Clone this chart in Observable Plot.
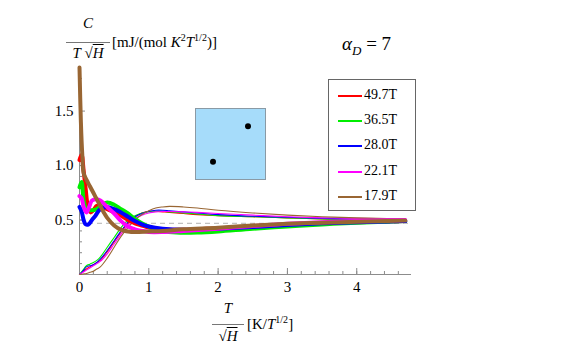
<!DOCTYPE html>
<html>
<head>
<meta charset="utf-8">
<script src="https://cdn.jsdelivr.net/npm/d3@7"></script>
<script src="https://cdn.jsdelivr.net/npm/@observablehq/plot@0.6"></script>
<style>
  body { margin: 0; background: white; }
  #wrap { position: relative; width: 581px; height: 363px; font-family: "Liberation Serif", "DejaVu Serif", serif; color: #000; }
  .abs { position: absolute; white-space: nowrap; }
  .it { font-style: italic; }
  .ov { text-decoration: overline; }
  #legend { position: absolute; left: 328px; top: 79px; width: 86px; height: 130px; border: 1px solid #666; background: white; }
  .lrow { position: absolute; left: 9px; height: 16px; font-size: 14px; line-height: 16px; }
  .lline { position: absolute; left: 0; top: 8px; width: 24px; height: 2px; }
  .ltext { position: absolute; left: 26px; top: 0; }
</style>
</head>
<body>
<div id="wrap"></div>
<script>
// ---- data ----
const fields = ["49.7T", "36.5T", "28.0T", "22.1T", "17.9T"];
const colors = ["#ff0000", "#00ee00", "#0000ff", "#ff00ff", "#996633"];

// thick curves (decreasing branch)
const thickX_red     = [0, 0.03, 0.06, 0.09, 0.12, 0.16, 0.2, 0.25, 0.3, 0.4, 0.5, 0.6, 0.7, 0.8, 0.9, 1.0, 1.2, 1.5, 2.0, 2.5, 3.0, 3.5, 4.0, 4.7];
const thickY_red     = [1.05, 1.1, 0.95, 0.78, 0.63, 0.57, 0.59, 0.63, 0.63, 0.60, 0.57, 0.54, 0.50, 0.47, 0.45, 0.43, 0.415, 0.41, 0.425, 0.44, 0.46, 0.47, 0.48, 0.49];
const thickX_green   = [0, 0.03, 0.06, 0.1, 0.16, 0.25, 0.32, 0.4, 0.5, 0.6, 0.7, 0.8, 0.9, 1.0, 1.2, 1.4, 1.7, 2.0, 2.5, 3.0, 3.5, 4.0, 4.7];
const thickY_green   = [0.8, 0.85, 0.68, 0.6, 0.59, 0.6, 0.64, 0.66, 0.64, 0.6, 0.56, 0.51, 0.47, 0.44, 0.40, 0.385, 0.385, 0.395, 0.42, 0.44, 0.46, 0.475, 0.49];
const thickX_blue    = [0, 0.03, 0.06, 0.09, 0.13, 0.18, 0.23, 0.3, 0.4, 0.5, 0.6, 0.7, 0.8, 0.9, 1.0, 1.2, 1.5, 2.0, 2.5, 3.0, 3.5, 4.0, 4.7];
const thickY_blue    = [0.62, 0.58, 0.5, 0.46, 0.46, 0.5, 0.54, 0.6, 0.62, 0.6, 0.57, 0.53, 0.49, 0.46, 0.44, 0.42, 0.41, 0.42, 0.435, 0.455, 0.47, 0.48, 0.49];
const thickX_magenta = [0, 0.03, 0.06, 0.1, 0.14, 0.18, 0.25, 0.3, 0.4, 0.5, 0.6, 0.7, 0.8, 0.9, 1.0, 1.2, 1.5, 2.0, 2.5, 3.0, 3.5, 4.0, 4.7];
const thickY_magenta = [0.72, 0.7, 0.62, 0.57, 0.62, 0.68, 0.69, 0.68, 0.62, 0.56, 0.49, 0.44, 0.415, 0.4, 0.39, 0.39, 0.4, 0.42, 0.445, 0.465, 0.48, 0.49, 0.5];
const thickX_brown   = [0, 0.02, 0.04, 0.06, 0.1, 0.15, 0.2, 0.25, 0.3, 0.35, 0.4, 0.5, 0.6, 0.7, 0.8, 1.0, 1.2, 1.5, 2.0, 2.5, 3.0, 3.5, 4.0, 4.7];
const thickY_brown   = [1.9, 1.4, 1.1, 0.93, 0.87, 0.81, 0.75, 0.69, 0.63, 0.57, 0.52, 0.45, 0.41, 0.395, 0.39, 0.395, 0.40, 0.415, 0.43, 0.45, 0.465, 0.475, 0.485, 0.495];

// thin curves (rising branch)
const thinX          = [0, 0.05, 0.1, 0.15, 0.2, 0.25, 0.3, 0.4, 0.5, 0.6, 0.7, 0.8, 0.9, 1.0, 1.1, 1.2, 1.3, 1.5, 1.7, 2.0, 2.5, 3.0, 3.5, 4.0, 4.7];
const thinY_red      = [0, 0.025, 0.05, 0.07, 0.09, 0.11, 0.13, 0.21, 0.30, 0.39, 0.47, 0.53, 0.565, 0.58, 0.58, 0.575, 0.57, 0.56, 0.55, 0.54, 0.53, 0.52, 0.51, 0.505, 0.50];
const thinY_green    = [0, 0.04, 0.08, 0.095, 0.11, 0.13, 0.16, 0.25, 0.34, 0.43, 0.50, 0.54, 0.565, 0.575, 0.58, 0.58, 0.575, 0.565, 0.555, 0.54, 0.53, 0.52, 0.51, 0.505, 0.50];
const thinY_blue     = [0, 0.03, 0.07, 0.08, 0.09, 0.11, 0.14, 0.22, 0.31, 0.40, 0.48, 0.53, 0.56, 0.58, 0.59, 0.59, 0.585, 0.575, 0.565, 0.55, 0.535, 0.525, 0.515, 0.51, 0.505];
const thinY_magenta  = [0, 0.02, 0.04, 0.06, 0.08, 0.10, 0.12, 0.19, 0.28, 0.37, 0.45, 0.51, 0.545, 0.565, 0.575, 0.578, 0.578, 0.575, 0.57, 0.56, 0.545, 0.53, 0.52, 0.515, 0.51];
const thinY_brown    = [0, 0.005, 0.01, 0.02, 0.03, 0.05, 0.07, 0.15, 0.25, 0.35, 0.43, 0.50, 0.55, 0.585, 0.61, 0.62, 0.625, 0.62, 0.61, 0.59, 0.565, 0.545, 0.53, 0.52, 0.51];

const dashedLevel = [0.47];
const xMajorTicks = [0, 1, 2, 3, 4];
const xMinorTicks = d3.range(0, 24).map(i => +(i * 0.2).toFixed(1));
const yMajorTicks = [0.5, 1.0, 1.5];
const yMinorTicks = d3.range(1, 19).map(i => +(i * 0.1).toFixed(1));
const insetDots = [{u: 0.25, v: 0.25}, {u: 0.75, v: 0.75}];

// ---- build tables ----
const thickSets = [[thickX_red, thickY_red], [thickX_green, thickY_green], [thickX_blue, thickY_blue], [thickX_magenta, thickY_magenta], [thickX_brown, thickY_brown]];
const thinSets = [thinY_red, thinY_green, thinY_blue, thinY_magenta, thinY_brown];
const thick = [], thin = [];
thickSets.forEach(([xs, ys], i) => xs.forEach((x, j) => thick.push({field: fields[i], x, y: ys[j]})));
thinSets.forEach((ys, i) => thinX.forEach((x, j) => thin.push({field: fields[i], x, y: ys[j]})));

const gray = "#8c8c8c";
const color = {domain: fields, range: colors};

const lineMarks = [];
fields.forEach(f => lineMarks.push(Plot.line(thin.filter(d => d.field === f), {x: "x", y: "y", stroke: "field", strokeWidth: 1.1, curve: "catmull-rom"})));
fields.forEach(f => lineMarks.push(Plot.line(thick.filter(d => d.field === f), {x: "x", y: "y", stroke: "field", strokeWidth: 4, curve: "catmull-rom"})));

const chart = Plot.plot({
  width: 581, height: 363,
  marginLeft: 79, marginRight: 170, marginTop: 67, marginBottom: 89,
  x: {domain: [0, 4.79], label: null},
  y: {domain: [0, 1.9], label: null},
  color,
  style: {fontFamily: "Liberation Serif", fontSize: "15px", color: "black", background: "white", overflow: "visible"},
  marks: [
    Plot.ruleY(dashedLevel, {stroke: "#b0b0b0", strokeDasharray: "5,4"}),
    Plot.ruleY([0], {stroke: gray}),
    Plot.ruleX([0], {stroke: gray}),
    Plot.axisX(xMinorTicks, {tickSize: 3, dy: -3, tickFormat: () => "", stroke: gray, label: null}),
    Plot.axisX(xMajorTicks, {tickSize: 6, dy: -6, tickFormat: () => "", stroke: gray, label: null}),
    Plot.axisX(xMajorTicks, {tickSize: 0, tickPadding: 7, tickFormat: d3.format("d"), label: null, fontSize: 15}),
    Plot.axisY(yMinorTicks, {tickSize: 3, dx: 3, tickFormat: () => "", stroke: gray, label: null}),
    Plot.axisY(yMajorTicks, {tickSize: 6, dx: 6, tickFormat: () => "", stroke: gray, label: null}),
    Plot.axisY(yMajorTicks, {tickSize: 0, tickPadding: 6, tickFormat: d3.format(".1f"), label: null, fontSize: 15}),
    ...lineMarks
  ]
});

const inset = Plot.plot({
  width: 70, height: 71, margin: 0,
  x: {domain: [0, 1], axis: null}, y: {domain: [0, 1], axis: null},
  style: {background: "transparent", overflow: "visible"},
  marks: [
    Plot.frame({fill: "#a6dcfa", stroke: "#8a9aa5"}),
    Plot.dot(insetDots, {x: "u", y: "v", r: 3, fill: "black"})
  ]
});

const wrap = document.getElementById("wrap");
chart.style.position = "absolute"; chart.style.left = "0"; chart.style.top = "0";
wrap.appendChild(chart);
inset.style.position = "absolute"; inset.style.left = "195px"; inset.style.top = "108px";
wrap.appendChild(inset);

function add(html, css) {
  const d = document.createElement("div");
  d.className = "abs"; d.innerHTML = html; d.style.cssText += css; wrap.appendChild(d);
  return d;
}
// y-axis label
add('<span class="it">C</span>', "left:66px;top:15px;width:44px;text-align:center;font-size:15px;");
add('', "left:66px;top:42px;width:44px;border-top:1px solid #777;");
add('<span class="it">T</span> √<span class="it ov">H</span>', "left:66px;top:45px;width:44px;text-align:center;font-size:15px;");
add('[mJ/(mol <span class="it">K</span><sup style="font-size:10px">2</sup><span class="it">T</span><sup style="font-size:10px">1/2</sup>)]', "left:112px;top:32px;font-size:15px;");
// x-axis label
add('<span class="it">T</span>', "left:212px;top:300px;width:32px;text-align:center;font-size:15px;");
add('', "left:212px;top:324px;width:32px;border-top:1px solid #777;");
add('√<span class="it ov">H</span>', "left:212px;top:328px;width:32px;text-align:center;font-size:15px;");
add('[K/<span class="it">T</span><sup style="font-size:10px">1/2</sup>]', "left:247px;top:314px;font-size:15px;");
// title
add('<span class="it">α</span><sub class="it" style="font-size:13px">D</sub> = 7', "left:342px;top:33px;font-size:19px;");

// legend
const lg = document.createElement("div"); lg.id = "legend"; wrap.appendChild(lg);
fields.forEach((f, i) => {
  const r = document.createElement("div"); r.className = "lrow";
  r.style.top = Math.round(7 + i * 25.2) + "px";
  r.innerHTML = `<span class="lline" style="background:${colors[i]}"></span><span class="ltext">${f}</span>`;
  lg.appendChild(r);
});
</script>
</body>
</html>
